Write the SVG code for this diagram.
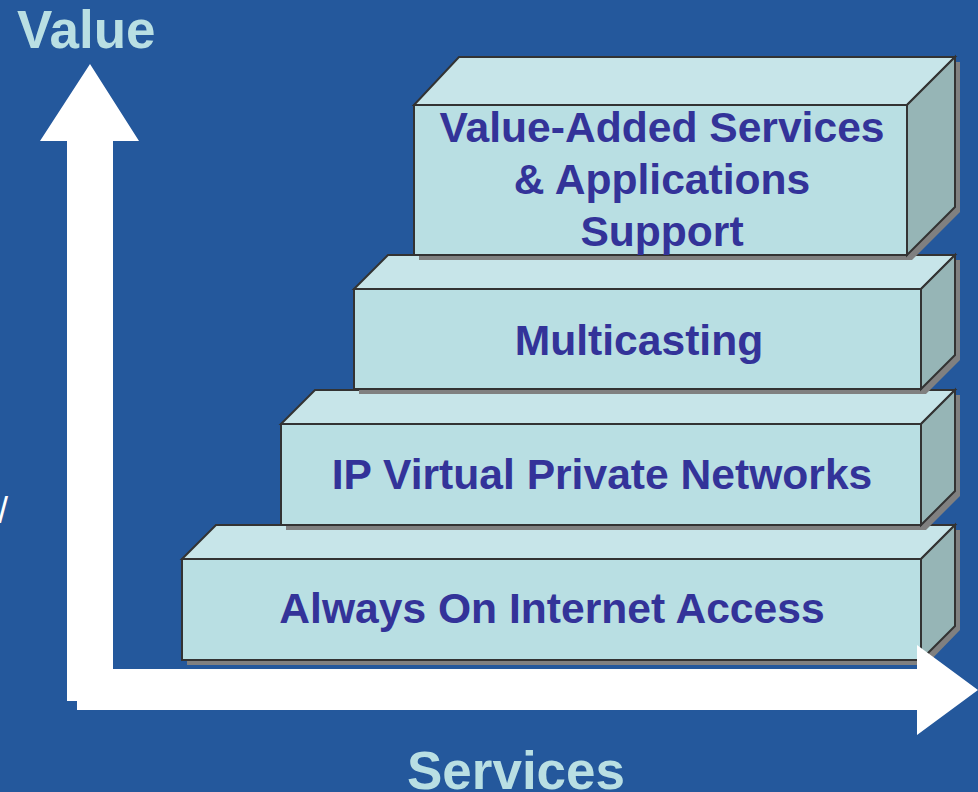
<svg xmlns="http://www.w3.org/2000/svg" width="978" height="792" viewBox="0 0 978 792">
<defs>
<style>
.bg{fill:#24589C}
.front{fill:#B9DFE3;stroke:#333333;stroke-width:2;stroke-linejoin:miter}
.top{fill:#C7E5E9;stroke:#333333;stroke-width:2}
.side{fill:#96B5B6;stroke:#333333;stroke-width:2}
.shadow{fill:#808080}
.lbl{font-family:"Liberation Sans",Arial,sans-serif;font-weight:bold;font-size:42.6px;fill:#333399;text-anchor:middle}
.axis{font-family:"Liberation Sans",Arial,sans-serif;font-weight:bold;font-size:53px;fill:#B9DFE3}
.arrow{fill:#FFFFFF}
</style>
</defs>
<rect class="bg" x="0" y="0" width="978" height="792"/>
<text x="-2" y="523" font-family="Liberation Sans, Arial, sans-serif" font-size="36" fill="#FFFFFF">/</text>
<text class="axis" x="17" y="48">Value</text>
<text class="axis" x="516" y="789" text-anchor="middle">Services</text>

<g id="box-access">
<polygon class="shadow" points="187,665 187,564 221,530 960,530 960,630 926,665"/>
<polygon class="top" points="182,559 216,525 955,525 921,559"/>
<polygon class="side" points="921,559 955,525 955,626 921,660"/>
<rect class="front" x="182" y="559" width="739" height="101"/>
<text class="lbl" x="552" y="623">Always On Internet Access</text>
</g>

<g id="box-vpn">
<polygon class="shadow" points="286,530 286,429 320,395 960,395 960,496 926,530"/>
<polygon class="top" points="281,424 315,390 955,390 921,424"/>
<polygon class="side" points="921,424 955,390 955,491 921,525"/>
<rect class="front" x="281" y="424" width="640" height="101"/>
<text class="lbl" x="602" y="489">IP Virtual Private Networks</text>
</g>

<g id="box-multicast">
<polygon class="shadow" points="359,394 359,294 393,260 960,260 960,360 926,394"/>
<polygon class="top" points="354,289 388,255 955,255 921,289"/>
<polygon class="side" points="921,289 955,255 955,355 921,389"/>
<rect class="front" x="354" y="289" width="567" height="100"/>
<text class="lbl" x="639" y="355">Multicasting</text>
</g>

<g id="box-vas">
<polygon class="shadow" points="419,260 419,110 464,62 960,62 960,212 912,260"/>
<polygon class="top" points="414,105 459,57 955,57 907,105"/>
<polygon class="side" points="907,105 955,57 955,207 907,255"/>
<rect class="front" x="414" y="105" width="493" height="150"/>
<text class="lbl" x="662" y="142">Value-Added Services</text>
<text class="lbl" x="662" y="194">&amp; Applications</text>
<text class="lbl" x="662" y="246">Support</text>
</g>

<g id="connectors">
<polygon class="arrow" points="90,64 139,141 113,141 113,669 917,669 917,645 978,690 917,735 917,710 77,710 77,701 67,701 67,141 40,141"/>
</g>
</svg>
